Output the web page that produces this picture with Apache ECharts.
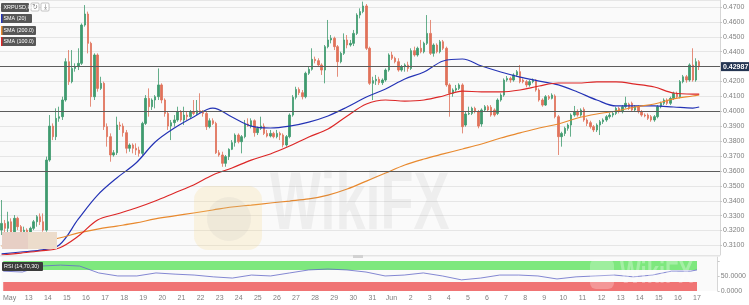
<!DOCTYPE html>
<html><head><meta charset="utf-8">
<script src="https://cdn.jsdelivr.net/npm/echarts/dist/echarts.min.js"></script>
<style>html,body{margin:0;padding:0;background:#fff}#c{width:749px;height:305px}</style>
</head><body><div id="c"></div>
<script>
// 4H candles [open, close, low, high], first candle 2019-05-11 16:00
const ohlc = [
[.3203,.3248,.3170,.3405],[.3248,.3215,.3181,.3271],[.3215,.3259,.3092,.3326],[.3259,.3181,.3159,.3282],
[.3181,.3282,.3170,.3304],[.3282,.3226,.3203,.3293],[.3226,.3192,.3170,.3237],[.3192,.3203,.3181,.3226],
[.3203,.3186,.3170,.3215],[.3186,.3215,.3177,.3226],[.3215,.3259,.3203,.3271],[.3259,.3293,.3226,.3304],
[.3293,.3259,.3237,.3315],[.3259,.3203,.3192,.3315],[.3203,.3673,.3192,.3696],[.3673,.3901,.3662,.3975],
[.3901,.3830,.3807,.3919],[.3830,.3953,.3807,.4020],[.3953,.3964,.3930,.4031],[.3964,.4076,.3942,.4098],
[.4076,.4333,.4065,.4356],[.4333,.4199,.4177,.4411],[.4199,.4288,.4188,.4411],[.4288,.4300,.4266,.4322],
[.4300,.4322,.4277,.4423],[.4322,.4579,.4311,.4590],[.4579,.4653,.4568,.4713],[.4653,.4456,.4389,.4669],
[.4456,.4098,.4031,.4467],[.4098,.4378,.4076,.4389],[.4378,.4154,.4132,.4389],[.4154,.4188,.4143,.4232],
[.4188,.3897,.3875,.4199],[.3897,.3830,.3763,.3919],[.3830,.3707,.3662,.3852],[.3707,.3722,.3696,.3740],
[.3722,.3908,.3707,.3964],[.3908,.3901,.3875,.3930],[.3901,.3857,.3830,.3919],[.3857,.3752,.3718,.3875],
[.3752,.3774,.3729,.3785],[.3774,.3752,.3718,.3785],[.3752,.3740,.3707,.3785],[.3740,.3718,.3696,.3763],
[.3718,.3919,.3707,.3930],[.3919,.4087,.3908,.4109],[.4087,.4031,.3964,.4154],[.4031,.4076,.4009,.4087],
[.4076,.4098,.4020,.4109],[.4098,.4177,.4076,.4288],[.4177,.4076,.4054,.4188],[.4076,.3986,.3964,.4087],
[.3986,.3901,.3875,.3998],[.3901,.3924,.3807,.3942],[.3924,.3942,.3897,.3975],[.3942,.3998,.3930,.4031],
[.3998,.3942,.3930,.4009],[.3942,.3975,.3908,.4031],[.3975,.3964,.3942,.3998],[.3964,.3998,.3953,.4009],
[.3998,.3986,.3975,.4076],[.3986,.4004,.3975,.4076],[.4004,.3998,.3986,.4121],[.3998,.3986,.3964,.4009],
[.3986,.3897,.3875,.3998],[.3897,.3937,.3886,.3953],[.3937,.3919,.3908,.3953],[.3919,.3722,.3714,.3930],
[.3722,.3707,.3696,.3740],[.3707,.3651,.3628,.3729],[.3651,.3696,.3628,.3707],[.3696,.3745,.3673,.3752],
[.3745,.3790,.3740,.3807],[.3790,.3841,.3763,.3852],[.3841,.3796,.3785,.3852],[.3796,.3830,.3718,.3841],
[.3830,.3915,.3819,.3942],[.3915,.3901,.3897,.3953],[.3901,.3937,.3886,.3953],[.3937,.3857,.3830,.3946],
[.3857,.3886,.3841,.3897],[.3886,.3901,.3875,.3964],[.3901,.3852,.3841,.3919],[.3852,.3834,.3825,.3875],
[.3834,.3852,.3825,.3875],[.3852,.3830,.3819,.3863],[.3830,.3852,.3819,.3875],[.3852,.3841,.3807,.3863],
[.3841,.3774,.3758,.3852],[.3774,.3830,.3763,.3841],[.3830,.3975,.3819,.3986],[.3975,.4094,.3964,.4109],
[.4094,.4147,.4080,.4165],[.4147,.4125,.4109,.4161],[.4125,.4098,.4080,.4143],[.4098,.4255,.4087,.4266],
[.4255,.4282,.4244,.4300],[.4282,.4349,.4273,.4423],[.4349,.4340,.4322,.4367],[.4340,.4311,.4300,.4356],
[.4311,.4277,.4244,.4322],[.4277,.4434,.4188,.4445],[.4434,.4479,.4423,.4613],[.4479,.4490,.4456,.4512],
[.4490,.4434,.4411,.4501],[.4434,.4333,.4232,.4445],[.4333,.4389,.4322,.4400],[.4389,.4479,.4378,.4523],
[.4479,.4445,.4423,.4512],[.4445,.4456,.4434,.4479],[.4456,.4523,.4438,.4546],[.4523,.4646,.4512,.4658],
[.4646,.4669,.4624,.4691],[.4669,.4707,.4658,.4736],[.4707,.4423,.4411,.4720],[.4423,.4188,.4177,.4434],
[.4188,.4206,.4076,.4232],[.4206,.4215,.4177,.4244],[.4215,.4192,.4177,.4232],[.4192,.4210,.4177,.4221],
[.4210,.4277,.4199,.4288],[.4277,.4378,.4266,.4389],[.4378,.4356,.4344,.4400],[.4356,.4333,.4322,.4367],
[.4333,.4277,.4266,.4356],[.4277,.4300,.4266,.4311],[.4300,.4311,.4266,.4322],[.4311,.4288,.4266,.4333],
[.4288,.4407,.4277,.4423],[.4407,.4378,.4367,.4434],[.4378,.4423,.4367,.4434],[.4423,.4400,.4389,.4479],
[.4400,.4456,.4389,.4467],[.4456,.4523,.4445,.4646],[.4523,.4389,.4378,.4613],[.4389,.4445,.4367,.4456],
[.4445,.4400,.4389,.4456],[.4400,.4467,.4389,.4479],[.4467,.4423,.4411,.4479],[.4423,.4177,.4165,.4434],
[.4177,.4121,.3964,.4188],[.4121,.4143,.4098,.4154],[.4143,.4154,.4132,.4177],[.4154,.4177,.4143,.4188],
[.4177,.3897,.3852,.4188],[.3908,.3982,.3897,.3998],[.3982,.3986,.3975,.4031],[.3986,.4020,.3975,.4031],
[.4020,.3998,.3986,.4031],[.3998,.3901,.3886,.4009],[.3915,.4009,.3897,.4020],[.4009,.4031,.3998,.4042],
[.4031,.4009,.3998,.4042],[.4027,.3975,.3964,.4042],[.4009,.3975,.3964,.4020],[.3986,.4076,.3975,.4087],
[.4076,.4109,.4065,.4121],[.4109,.4210,.4098,.4221],[.4210,.4221,.4199,.4237],[.4221,.4210,.4192,.4232],
[.4210,.4244,.4199,.4255],[.4244,.4266,.4232,.4277],[.4266,.4199,.4188,.4311],[.4210,.4199,.4188,.4221],
[.4199,.4177,.4161,.4210],[.4177,.4199,.4165,.4210],[.4199,.4210,.4188,.4221],[.4210,.4143,.4132,.4215],
[.4143,.4076,.4065,.4154],[.4076,.4042,.4031,.4087],[.4042,.4098,.4036,.4109],[.4098,.4087,.4076,.4109],
[.4087,.4109,.4080,.4121],[.4103,.3964,.3953,.4114],[.3964,.3830,.3707,.3975],[.3830,.3852,.3763,.3863],
[.3852,.3886,.3834,.3897],[.3886,.3908,.3870,.3919],[.3908,.3975,.3830,.3986],[.3975,.3998,.3964,.4036],
[.3998,.3975,.3964,.4013],[.3975,.4009,.3964,.4020],[.4013,.3942,.3930,.4027],[.3942,.3919,.3901,.3953],
[.3924,.3897,.3884,.3937],[.3897,.3875,.3861,.3908],[.3875,.3908,.3861,.3919],[.3908,.3930,.3841,.3942],
[.3930,.3942,.3915,.3953],[.3942,.3964,.3930,.3975],[.3964,.3975,.3951,.3991],[.3975,.3986,.3960,.3998],
[.3986,.4020,.3975,.4031],[.4020,.3998,.3986,.4031],[.3998,.4031,.3986,.4042],[.4031,.4054,.4020,.4098],
[.4049,.4020,.4009,.4058],[.4054,.4009,.3998,.4065],[.4009,.4031,.3998,.4042],[.4031,.3998,.3986,.4042],
[.3998,.3975,.3964,.4009],[.3975,.3969,.3960,.3986],[.3975,.3953,.3942,.3986],[.3964,.3942,.3930,.3975],
[.3942,.3964,.3930,.3975],[.3964,.4031,.3953,.4042],[.4031,.4054,.4020,.4065],[.4054,.4076,.4042,.4087],
[.4076,.4054,.4042,.4087],[.4054,.4087,.4042,.4098],[.4087,.4121,.4076,.4132],[.4121,.4098,.4087,.4132],
[.4098,.4199,.4087,.4210],[.4199,.4232,.4188,.4244],[.4232,.4210,.4192,.4244],[.4210,.4311,.4199,.4322],
[.4311,.4210,.4199,.4423],[.4210,.4333,.4199,.4356],[.4333,.4299,.4277,.4344]
];
// moving averages read once per day (every 6th candle) plus the last candle
const sma20  = [.3043,.3056,.3069,.3103,.3278,.3438,.3553,.3653,.3794,.3888,.3962,.4022,.3962,.3901,.3888,.3901,.3928,.3969,.4029,.4096,.4150,.4217,.4264,.4338,.4351,.4304,.4264,.4230,.4203,.4177,.4130,.4076,.4036,.4036,.4036,.4029,.4022,.4029];
const sma100 = [.3036,.3049,.3063,.3083,.3163,.3271,.3311,.3351,.3398,.3452,.3506,.3573,.3620,.3673,.3714,.3767,.3828,.3881,.3969,.4049,.4076,.4069,.4076,.4103,.4136,.4130,.4130,.4143,.4170,.4190,.4190,.4197,.4197,.4183,.4163,.4123,.4116,.4116];
const sma200 = [.3096,.3116,.3130,.3150,.3184,.3210,.3230,.3251,.3278,.3298,.3318,.3338,.3358,.3371,.3385,.3398,.3412,.3438,.3479,.3532,.3586,.3640,.3680,.3714,.3747,.3781,.3821,.3855,.3888,.3915,.3955,.3982,.4002,.4029,.4049,.4083,.4103,.4110];
const rsi14  = [66,63,83,86,83,60,50,50,60,56,53,47,43,53,50,60,70,73,70,63,50,53,60,50,37,43,53,53,50,40,47,50,53,47,53,66,66,70];
const lastPrice = 0.42987;
const levels = [0.4275, 0.4000, 0.3557];
const rsiBands = [[70,100],[0,30]];
const monthNames = ['','Jan','Feb','Mar','Apr','May','Jun','Jul','Aug','Sep','Oct','Nov','Dec'];

const N = ohlc.length, PAD = 6, STEP = 6;
const start = Date.UTC(2019,4,11,16);
const cats = [];
for (let i = 0; i < N + PAD; i++) cats.push(i < N ? new Date(start + i*14400000).toISOString().slice(0,16) : 'pad' + i);
const firstMidnight = cats.find(v => /T00:00$/.test(v));
function dayLabel(v){
  if (!/T00:00$/.test(v)) return '';
  const m = +v.slice(5,7), d = +v.slice(8,10);
  if (d === 1 || v === firstMidnight) return monthNames[m];
  return String(d);
}
function sparse(vals){
  const a = new Array(N).fill(null);
  vals.forEach((v,k) => { a[Math.min(k*STEP, N-1)] = v; });
  return a;
}
const UP = '#3f9a6e', DOWN = '#e0725a';
const FONT = '"Liberation Sans", Arial, sans-serif';
const lbl = {color:'#808080', fontSize:7, fontFamily:FONT};

function tag(y, w, text, strip){
  const els = [{type:'rect', shape:{x:1,y:y,width:w,height:9,r:1}, style:{fill:'#575757'}, z:100}];
  if (strip) els.push({type:'rect', shape:{x:1,y:y,width:1.5,height:9}, style:{fill:strip}, z:101});
  els.push({type:'text', x:3.5, y:y+4.7, style:{text:text, fill:'#fff', font:'5.4px '+FONT, verticalAlign:'middle'}, z:102});
  return els;
}

const chart = echarts.init(document.getElementById('c'), null, {renderer:'canvas'});
chart.setOption({
  animation:false,
  backgroundColor:'#ffffff',
  grid:[
    {left:0, right:29, top:0, height:255, show:true, backgroundColor:'#fafafa', borderWidth:0},
    {left:0, right:29, top:257, height:34, show:true, backgroundColor:'#fafafa', borderWidth:0}
  ],
  xAxis:[
    {type:'category', gridIndex:0, data:cats, boundaryGap:true, axisLine:{show:false}, axisTick:{show:false}, axisLabel:{show:false}, splitLine:{show:false}},
    {type:'category', gridIndex:1, data:cats, boundaryGap:true, axisLine:{show:false}, axisTick:{show:false},
     axisLabel:Object.assign({}, lbl, {interval:(i,v)=>/T00:00$/.test(v), formatter:dayLabel, margin:4}), splitLine:{show:false}}
  ],
  yAxis:[
    {type:'value', gridIndex:0, position:'right', min:0.3036, max:0.4747, splitNumber:17, scale:true,
     axisLine:{show:true, lineStyle:{color:'#d6d6d6'}}, axisTick:{show:true, length:2, lineStyle:{color:'#c8c8c8'}},
     axisLabel:Object.assign({}, lbl, {margin:3, showMinLabel:false, showMaxLabel:false, formatter:v=>v.toFixed(4)}),
     splitLine:{show:true, lineStyle:{color:'#e6e6e6', width:1}}},
    {type:'value', gridIndex:1, position:'right', min:0, max:113, interval:50,
     axisLine:{show:true, lineStyle:{color:'#d6d6d6'}}, axisTick:{show:true, length:2, lineStyle:{color:'#c8c8c8'}},
     axisLabel:Object.assign({}, lbl, {margin:3, showMaxLabel:false, formatter:v=> v > 60 ? '' : v.toFixed(4)}),
     splitLine:{show:false}}
  ],
  series:[
    {type:'candlestick', name:'XRPUSD', xAxisIndex:0, yAxisIndex:0, data:ohlc, barWidth:2, z:2,
     itemStyle:{color:UP, color0:DOWN, borderColor:UP, borderColor0:DOWN, borderWidth:0.8},
     markLine:{silent:true, symbol:['none','none'], animation:false,
       data:[{yAxis:lastPrice, lineStyle:{color:'#243552', width:1, type:'solid'},
              label:{show:true, position:'end', formatter:lastPrice.toFixed(5), backgroundColor:'#243552', color:'#fff',
                     fontSize:7, fontWeight:'bold', fontFamily:FONT, padding:[1,2,1,2], distance:1}}]
            .concat(levels.map(v=>({yAxis:v, lineStyle:{color:'#5c5c5c', width:1, type:'solid'}, label:{show:false}})))}},
    {type:'line', name:'SMA (20)', xAxisIndex:0, yAxisIndex:0, data:sparse(sma20), connectNulls:true, smooth:0.35, symbol:'none', lineStyle:{color:'#2433b5', width:1.2}, z:3},
    {type:'line', name:'SMA (200.0)', xAxisIndex:0, yAxisIndex:0, data:sparse(sma200), connectNulls:true, smooth:0.35, symbol:'none', lineStyle:{color:'#e8892e', width:1.2}, z:3},
    {type:'line', name:'SMA (100.0)', xAxisIndex:0, yAxisIndex:0, data:sparse(sma100), connectNulls:true, smooth:0.35, symbol:'none', lineStyle:{color:'#dc2727', width:1.2}, z:3},
    {type:'line', name:'RSI', xAxisIndex:1, yAxisIndex:1, data:sparse(rsi14), connectNulls:true, symbol:'none', lineStyle:{color:'#6469c8', width:0.8}, z:3,
     markArea:{silent:true, data:[
       [{xAxis:cats[0], yAxis:rsiBands[0][0], itemStyle:{color:'#7ee87e', opacity:1}}, {xAxis:cats[N-1], yAxis:rsiBands[0][1]}],
       [{xAxis:cats[0], yAxis:rsiBands[1][0], itemStyle:{color:'#f07474', opacity:1}}, {xAxis:cats[N-1], yAxis:rsiBands[1][1]}]
     ]}}
  ],
  graphic:[
    // watermark
    {type:'rect', shape:{x:194,y:186,width:68,height:64,r:14}, style:{fill:'rgba(246,212,120,0.2)'}, z:50, silent:true},
    {type:'circle', shape:{cx:229,cy:219,r:22}, style:{fill:'rgba(140,140,160,0.09)'}, z:50, silent:true},
    {type:'text', x:270, y:247, scaleY:1.5, style:{text:'WikiFX', fill:'rgba(150,150,150,0.11)', font:'bold 54px '+FONT, verticalAlign:'bottom'}, z:50, silent:true},
    {type:'rect', shape:{x:590,y:259,width:24,height:30,r:6}, style:{fill:'rgba(255,255,255,0.25)'}, z:50, silent:true},
    {type:'text', x:620, y:290, scaleY:1.4, style:{text:'WikiFX', fill:'rgba(255,255,255,0.3)', font:'bold 22px '+FONT, verticalAlign:'bottom'}, z:50, silent:true},
    // pane separator
    {type:'line', shape:{x1:0,y1:256,x2:720,y2:256}, style:{stroke:'#e2e2e2', lineWidth:1}, z:60},
    {type:'rect', shape:{x:353,y:255,width:10,height:3}, style:{fill:'#d2d2d2'}, z:61},
    // overlay box bottom-left
    {type:'rect', shape:{x:2,y:232,width:26,height:17}, style:{fill:'#e7cfc5'}, z:90},
    {type:'rect', shape:{x:28,y:232,width:29,height:17}, style:{fill:'#ecdccb'}, z:90},
    // RSI tag
    {type:'rect', shape:{x:2,y:262,width:41,height:9,r:1}, style:{fill:'#3a3a3a'}, z:100},
    {type:'text', x:4, y:266.7, style:{text:'RSI (14,70,30)', fill:'#fff', font:'5.4px '+FONT, verticalAlign:'middle'}, z:101},
    // icons
    {type:'rect', shape:{x:31,y:3,width:8,height:8,r:1}, style:{fill:'#fff', stroke:'#a0a0a0', lineWidth:0.6}, z:100},
    {type:'text', x:35, y:7.3, style:{text:'↻', fill:'#666', font:'7px '+FONT, align:'center', verticalAlign:'middle'}, z:101},
    {type:'rect', shape:{x:41,y:3,width:8,height:8,r:1}, style:{fill:'#fff', stroke:'#a0a0a0', lineWidth:0.6}, z:100},
    {type:'text', x:45, y:7.3, style:{text:'⤓', fill:'#666', font:'7px '+FONT, align:'center', verticalAlign:'middle'}, z:101}
  ].concat(tag(3,28,'XRPUSD,H4',null), tag(14,31,'SMA (20)','#2433b5'), tag(26,35,'SMA (200.0)','#e8892e'), tag(37,35,'SMA (100.0)','#dc2727'))
});
</script></body></html>
